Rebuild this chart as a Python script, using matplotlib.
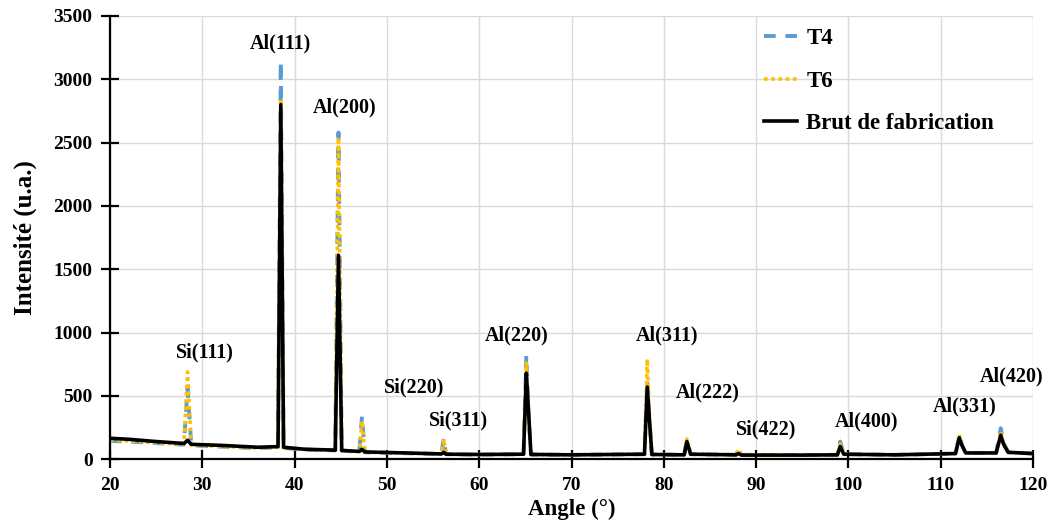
import matplotlib
matplotlib.use("Agg")
import matplotlib.pyplot as plt

plt.rcParams['font.family'] = ['Liberation Serif', 'DejaVu Serif']
plt.rcParams['font.weight'] = 'bold'

# Key points of the diffraction patterns (angle in degrees 2-theta)
angles = [20, 22, 25, 28.0, 28.4, 28.8, 32, 36, 38.2, 38.5, 38.8, 41,
          44.4, 44.75, 45.1, 47.0, 47.3, 47.6, 52, 55.9, 56.15, 56.4, 60,
          64.8, 65.1, 65.3, 65.6, 70, 77.9, 78.2, 78.45, 78.7, 82.2, 82.5,
          82.9, 87.8, 88.1, 88.4, 95, 98.8, 99.1, 99.5, 105, 111.6, 112.0,
          112.3, 112.7, 116.0, 116.5, 116.8, 117.3, 120]

t4_intensity = [145, 140, 128, 115, 560, 110, 100, 88, 95, 3140, 90, 75,
                70, 2580, 68, 60, 340, 55, 48, 42, 165, 40, 36,
                40, 820, 400, 38, 35, 40, 620, 300, 38, 35, 150,
                40, 35, 80, 35, 33, 35, 140, 40, 35, 45, 185,
                110, 50, 50, 245, 130, 55, 45]

t6_intensity = [150, 145, 130, 118, 690, 112, 102, 90, 96, 2850, 92, 76,
                71, 2540, 69, 61, 300, 56, 49, 43, 160, 41, 37,
                41, 760, 390, 39, 36, 41, 790, 320, 39, 36, 160,
                41, 36, 80, 36, 34, 36, 120, 41, 36, 46, 195,
                115, 51, 51, 220, 125, 56, 46]

brut_intensity = [166, 158, 140, 125, 150, 118, 110, 95, 100, 2800, 95, 80,
                  72, 1610, 70, 62, 78, 58, 50, 42, 55, 40, 38,
                  40, 680, 430, 38, 35, 40, 570, 300, 38, 35, 140,
                  40, 35, 45, 33, 33, 35, 100, 40, 35, 45, 170,
                  110, 50, 50, 190, 120, 55, 45]

series_names = ['T4', 'T6', 'Brut de fabrication']

peak_labels = ['Si(111)', 'Al(111)', 'Al(200)', 'Si(220)', 'Si(311)', 'Al(220)',
               'Al(311)', 'Al(222)', 'Si(422)', 'Al(400)', 'Al(331)', 'Al(420)']
label_x = [30.3, 38.5, 45.4, 52.9, 57.8, 64.1, 80.3, 84.7, 91.1, 102.0, 112.6, 117.7]
label_y = [840, 3280, 2780, 563, 303, 974, 974, 524, 239, 296, 413, 650]

x_ticks = [20, 30, 40, 50, 60, 70, 80, 90, 100, 110, 120]
y_ticks = [0, 500, 1000, 1500, 2000, 2500, 3000, 3500]

fig = plt.figure(figsize=(10.52, 5.29), dpi=100)
ax = fig.add_axes([0.1046, 0.1318, 0.8774, 0.838])

ax.plot(angles, t4_intensity, color='#5B9BD5', lw=2.8, ls=(0, (3, 2.5)),
        label=series_names[0], zorder=3)
ax.plot(angles, t6_intensity, color='#FFC000', lw=2.6, ls=(0, (1, 1)),
        label=series_names[1], zorder=4)
ax.plot(angles, brut_intensity, color='black', lw=2.6, ls='-',
        label=series_names[2], zorder=5)

for txt, x, y in zip(peak_labels, label_x, label_y):
    ax.text(x, y, txt, ha='center', va='center', fontsize=14.5,
            fontweight='bold', zorder=6)

ax.set_xlim(20, 120)
ax.set_ylim(0, 3500)
ax.set_xticks(x_ticks)
ax.set_yticks(y_ticks)
ax.grid(True, color='#D9D9D9', lw=1.0, zorder=0)
ax.set_axisbelow(True)
for s in ['top', 'right']:
    ax.spines[s].set_visible(False)
for s in ['left', 'bottom']:
    ax.spines[s].set_linewidth(1.6)
    ax.spines[s].set_zorder(7)
ax.tick_params(direction='inout', length=13, width=1.6, labelsize=14, pad=6)
for lab in ax.get_xticklabels() + ax.get_yticklabels():
    lab.set_fontweight('bold')

ax.set_xlabel('Angle (°)', fontsize=16.5, fontweight='bold', labelpad=4)
ax.set_ylabel('Intensité (u.a.)', fontsize=18, fontweight='bold', labelpad=12)

leg = ax.legend(loc='upper left', bbox_to_anchor=(0.686, 1.02), frameon=False,
                handlelength=1.45, handletextpad=0.4,
                labelspacing=0.95, prop={'weight': 'bold', 'size': 16.5})

fig.savefig('out.png', dpi=100)
